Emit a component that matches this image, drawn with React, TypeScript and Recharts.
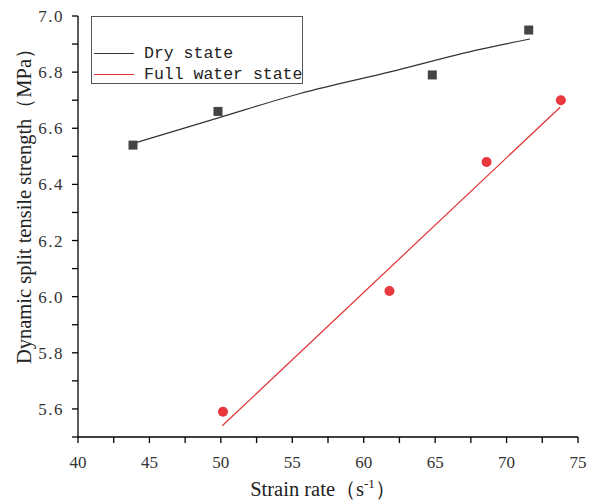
import React from 'react';
import { ComposedChart, Line, Scatter, XAxis, YAxis } from 'recharts';

// measured points
const dryX = [43.85, 49.8, 64.8, 71.55];
const dryY = [6.54, 6.66, 6.79, 6.95];
const wetX = [50.15, 61.8, 68.6, 73.8];
const wetY = [5.59, 6.02, 6.48, 6.7];

// fitted curves
const dryFitX = [44.0, 49.94, 55.54, 61.84, 68.14, 71.64];
const dryFitY = [6.548, 6.639, 6.724, 6.801, 6.881, 6.918];
const wetFitX = [50.1, 73.75];
const wetFitY = [5.54, 6.675];

const xTicks = [40, 42.5, 45, 47.5, 50, 52.5, 55, 57.5, 60, 62.5, 65, 67.5, 70, 72.5, 75];
const yTicks = [5.5, 5.6, 5.7, 5.8, 5.9, 6.0, 6.1, 6.2, 6.3, 6.4, 6.5, 6.6, 6.7, 6.8, 6.9, 7.0];

const seriesNames = ['Dry state', 'Full water state'];

const zip = (xs: number[], ys: number[]) => xs.map((x, i) => ({ x, y: ys[i] }));
const dryPts = zip(dryX, dryY);
const wetPts = zip(wetX, wetY);
const dryFit = zip(dryFitX, dryFitY);
const wetFit = zip(wetFitX, wetFitY);

const SERIF = 'Liberation Serif, Times New Roman, serif';
const DARK = '#444';
const RED = '#e8383d';

const isMajorX = (v: number) => Math.abs(v / 5 - Math.round(v / 5)) < 1e-6;
const isMajorY = (v: number) => Math.abs((v - 5.6) / 0.2 - Math.round((v - 5.6) / 0.2)) < 1e-6;

// tick lines come from the axis (tickSize 6); here only the labels
const XTick = (props: any) => {
  const { x, y, payload } = props;
  if (!isMajorX(payload.value)) return <g />;
  return (
    <text x={x} y={y + 25} textAnchor="middle" fontFamily={SERIF} fontSize={17} fill="#333">
      {payload.value}
    </text>
  );
};

const YTick = (props: any) => {
  const { x, y, payload } = props;
  if (!isMajorY(payload.value)) return <g />;
  return (
    <text x={x - 8} y={y + 6} textAnchor="end" fontFamily={SERIF} letterSpacing={1.5} fontSize={17} fill="#333">
      {payload.value.toFixed(1)}
    </text>
  );
};

const YLabel = () => (
  <text
    x={31}
    y={201}
    transform="rotate(-90 31 201)"
    textAnchor="middle"
    fontFamily={SERIF}
    fontSize={20.5}
    fill="#222"
  >
    Dynamic split tensile strength（MPa）
  </text>
);

const XLabel = () => (
  <text x={323} y={496} textAnchor="middle" fontFamily={SERIF} fontSize={20.5} fill="#222">
    Strain rate（s<tspan dy={-8} fontSize={13}>-1</tspan>
    <tspan dy={8}>）</tspan>
  </text>
);

const Square = (props: any) => (
  <rect x={props.cx - 4.5} y={props.cy - 4.5} width={9} height={9} fill={DARK} />
);
const Dot = (props: any) => <circle cx={props.cx} cy={props.cy} r={5} fill={RED} />;

const App = () => {
  return (
    <div style={{ position: 'absolute', left: 0, top: 0, width: 608, height: 501, background: '#fff' }}>
      <ComposedChart width={608} height={501} margin={{ top: 16, right: 30, bottom: 0, left: 0 }}>
        <XAxis
          type="number"
          dataKey="x"
          domain={[40, 75]}
          ticks={xTicks}
          interval={0}
          allowDataOverflow
          tickSize={6}
          tickMargin={0}
          tickLine={{ stroke: '#000', strokeWidth: 1.3 }}
          tick={<XTick />}
          axisLine={{ stroke: '#000', strokeWidth: 1.3 }}
          stroke="#000"
          height={64}
          label={<XLabel />}
        />
        <YAxis
          type="number"
          dataKey="y"
          domain={[5.5, 7.0]}
          ticks={yTicks}
          interval={0}
          allowDataOverflow
          tickSize={6}
          tickMargin={0}
          tickLine={{ stroke: '#000', strokeWidth: 1.3 }}
          tick={<YTick />}
          axisLine={{ stroke: '#000', strokeWidth: 1.3 }}
          stroke="#000"
          width={78}
          label={<YLabel />}
        />
        <Line
          data={dryFit}
          dataKey="y"
          type="monotone"
          stroke="#333"
          strokeWidth={1.2}
          dot={false}
          activeDot={false}
          isAnimationActive={false}
        />
        <Line
          data={wetFit}
          dataKey="y"
          type="linear"
          stroke="#e03030"
          strokeWidth={1.2}
          dot={false}
          activeDot={false}
          isAnimationActive={false}
        />
        <Scatter data={dryPts} dataKey="y" shape={<Square />} isAnimationActive={false} />
        <Scatter data={wetPts} dataKey="y" shape={<Dot />} isAnimationActive={false} />
      </ComposedChart>
      <div
        style={{
          position: 'absolute',
          left: 91,
          top: 16,
          width: 212,
          height: 68,
          border: '1px solid #555',
          boxSizing: 'border-box',
          background: '#fff',
          fontFamily: '"Liberation Mono", "DejaVu Sans Mono", monospace',
          fontSize: 16.5,
          color: '#222',
        }}
      >
        {seriesNames.map((name, i) => (
          <div
            key={name}
            style={{ position: 'absolute', left: 2, top: 26 + i * 21, height: 21, display: 'flex', alignItems: 'center' }}
          >
            <span
              style={{ display: 'inline-block', width: 40, height: 0, borderTop: `1px solid ${i === 0 ? '#333' : '#e03030'}`, marginRight: 10 }}
            />
            <span style={{ whiteSpace: 'nowrap' }}>{name}</span>
          </div>
        ))}
      </div>
    </div>
  );
};

export default App;
